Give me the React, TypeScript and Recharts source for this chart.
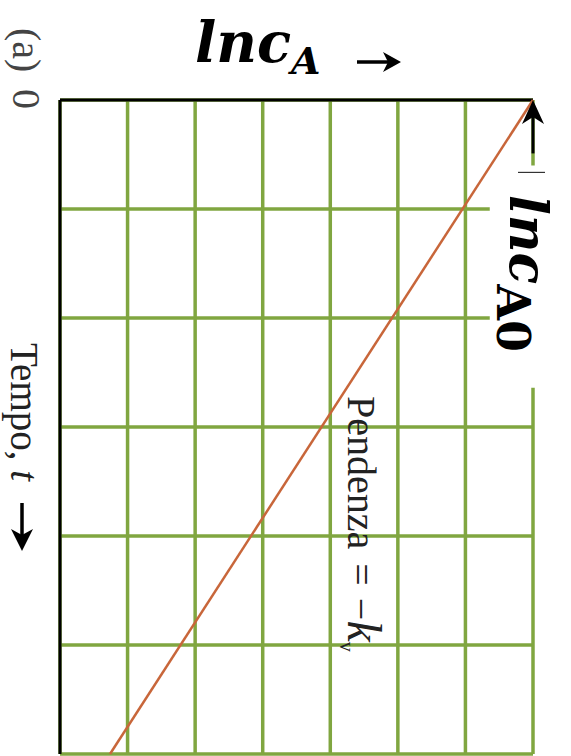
import React from 'react';
import {
  ComposedChart,
  Line,
  XAxis,
  YAxis,
  CartesianGrid,
  ReferenceArea,
  ReferenceLine,
} from 'recharts';

// Axis ticks (grid divisions)
const lnTicks = [0, 1, 2, 3, 4, 5, 6, 7];
const timeTicks = [0, 1, 2, 3, 4, 5, 6];

// First-order decay: ln c_A against time
const decayTime = [0, 6];
const decayLnC = [7, 0.74];

const data = decayTime.map((t, i) => ({ t, lnc: decayLnC[i] }));

const W = 571;
const H = 756;

const GRID = '#80a640';
const LINE = '#c8663a';

const NoTick = () => <g />;

const UpArrow = (props: any) => {
  const { x1, y1, x2, y2 } = props;
  const top = Math.min(y1, y2);
  const bottom = Math.max(y1, y2);
  const x = x1;
  return (
    <g>
      <line x1={x} y1={bottom} x2={x} y2={top + 16} stroke="#000" strokeWidth={3} />
      <polygon
        points={`${x},${top} ${x - 11},${top + 24} ${x},${top + 17} ${x + 11},${top + 24}`}
        fill="#000"
      />
      <line x1={x - 15} y1={bottom + 19} x2={x + 12} y2={bottom + 19} stroke="#333" strokeWidth={1.2} />
    </g>
  );
};

const serif = '"Liberation Serif", "DejaVu Serif", serif';
const mathFont = '"DejaVu Serif", serif';

export default function App() {
  return (
    <div style={{ position: 'absolute', left: 0, top: 0, width: W, height: H, background: '#fff', overflow: 'hidden' }}>
      <ComposedChart
        width={W}
        height={H}
        data={data}
        margin={{ top: 100, right: 38, bottom: 2, left: 60 }}
      >
        <CartesianGrid stroke={GRID} strokeWidth={3.5} />
        <XAxis
          dataKey="lnc"
          type="number"
          orientation="top"
          domain={[0, 7]}
          ticks={lnTicks}
          interval={0}
          height={0}
          tick={<NoTick />}
          tickLine={false}
          axisLine={false}
        />
        <YAxis
          type="number"
          domain={[0, 6]}
          ticks={timeTicks}
          interval={0}
          reversed
          width={0}
          tick={<NoTick />}
          tickLine={false}
          axisLine={false}
        />
        <ReferenceArea
          x1={6.36}
          x2={7.6}
          y1={0.6}
          y2={2.64}
          fill="#fff"
          fillOpacity={1}
          stroke="none"
          ifOverflow="visible"
        />
        {/* black frame: time origin (top) and ln c origin (left) */}
        <ReferenceLine y={0} stroke="#000" strokeWidth={3} ifOverflow="visible" />
        <ReferenceLine x={0} stroke="#000" strokeWidth={3} ifOverflow="visible" />
        <Line
          dataKey="t"
          type="linear"
          stroke={LINE}
          strokeWidth={2.5}
          dot={false}
          isAnimationActive={false}
        />
        <ReferenceLine
          segment={[{ x: 7, y: 0.49 }, { x: 7, y: 0 }]}
          shape={UpArrow}
          ifOverflow="visible"
        />
      </ComposedChart>

      <svg
        width={W}
        height={H}
        style={{ position: 'absolute', left: 0, top: 0, pointerEvents: 'none' }}
      >
        {/* top axis title */}
        <text x={195} y={62} fontFamily={mathFont} fontWeight="bold" fontStyle="italic" fontSize={56} fill="#000">
          lnc
          <tspan fontSize={38} dy={12}>A</tspan>
        </text>
        <g>
          <line x1={357} y1={62} x2={390} y2={62} stroke="#000" strokeWidth={3.5} />
          <polygon points="401,62 383,52 388,62 383,72" fill="#000" />
        </g>

        {/* rotated labels */}
        <text transform="translate(13,28) rotate(90)" fontFamily={serif} fontSize={40} fill="#444">(a)</text>
        <text transform="translate(13,89) rotate(90)" fontFamily={serif} fontSize={40} fill="#444">0</text>
        <text transform="translate(11,343) rotate(90)" fontFamily={serif} fontSize={39} fill="#222">
          Tempo, <tspan fontStyle="italic">t</tspan>
        </text>
        <g>
          <line x1={22} y1={503} x2={22} y2={535} stroke="#000" strokeWidth={3.5} />
          <polygon points="22,551 11,529 22,535 33,529" fill="#000" />
        </g>
        <text transform="translate(348,396) rotate(90)" fontFamily={serif} fontSize={40} fill="#222">
          Pendenza<tspan dx={14}>=</tspan>
          <tspan dx={12}>−</tspan>
          <tspan fontStyle="italic" fontSize={48}>k</tspan>
          <tspan fontSize={20} dy={8}>v</tspan>
        </text>
        <text transform="translate(510,195) rotate(90)" fontFamily={mathFont} fontWeight="bold" fontStyle="italic" fontSize={52} fill="#000">
          lnc
          <tspan fontSize={46} dy={13} fontStyle="normal">A0</tspan>
        </text>
      </svg>
    </div>
  );
}
